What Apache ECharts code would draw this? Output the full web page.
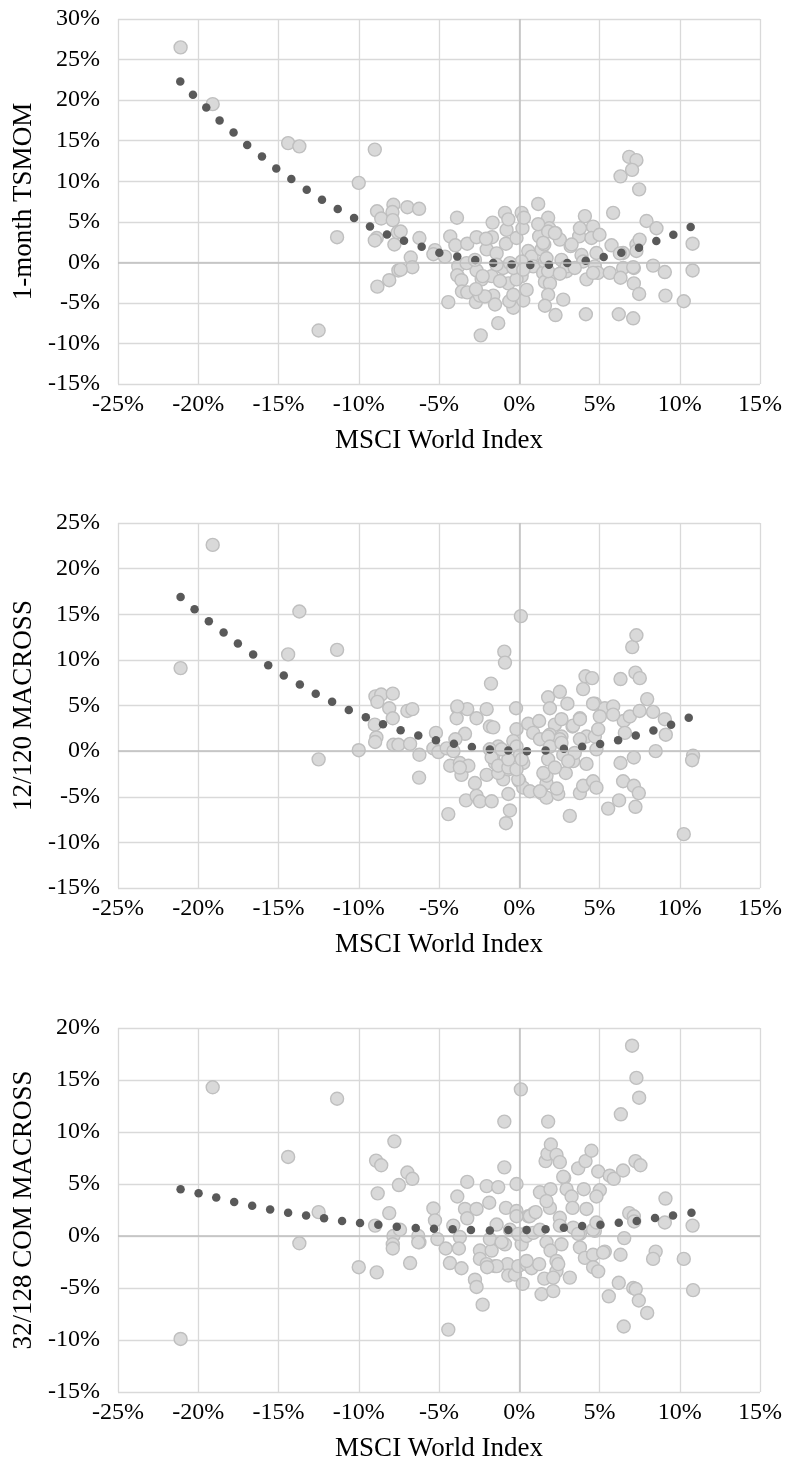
<!DOCTYPE html>
<html>
<head>
<meta charset="utf-8">
<script src="https://cdn.jsdelivr.net/npm/echarts@6/dist/echarts.min.js"></script>
<style>
  html, body { margin: 0; padding: 0; background: #fff; }
  #echarts { width: 785px; height: 1463px; }
</style>
</head>
<body>
<div id="echarts"></div>
<script>
// MSCI World Index return (x, %) vs strategy return (y, %)
var tsmomPts = [
    [-21.1,26.5],[-19.1,19.5],[-14.4,14.7],[-13.7,14.3],[-12.5,-8.4],[-11.35,3.1],[-10.0,9.8],[-9.0,13.9],
    [-8.86,6.3],[-8.6,5.4],[-8.88,3.0],[-9.0,2.7],[-7.84,7.1],[-7.9,6.2],[-7.88,5.2],[-7.78,2.2],[-7.57,3.7],[-7.53,-1.0],[-8.1,-2.2],[-8.84,-3.0],
    [-6.97,6.8],[-6.24,6.6],[-7.39,3.8],[-6.22,3.0],[-6.76,0.6],[-6.66,-0.6],[-7.39,-0.9],
    [-3.88,5.5],[-5.25,1.5],[-5.35,1.0],[-4.63,0.7],[-4.3,3.2],[-3.98,2.1],[-3.24,2.3],[-2.66,3.1],[-3.8,-0.5],[-3.86,-1.6],[-3.6,-2.2],
    [-3.57,-3.6],[-3.24,-3.7],[-4.42,-4.9],[-2.7,-4.9],[-2.45,-4.1],[-2.4,-9.0],[-2.66,-1.0],[-2.34,-2.1],[-2.03,1.6],[-1.66,4.9],[-1.7,3.1],
    [-1.72,-1.7],[-1.62,-4.1],[-1.51,-5.2],[-1.31,-7.5],[-1.41,1.1],
    [-0.89,6.1],[-0.79,4.0],[-0.68,5.3],[-0.83,2.3],[-1.0,-0.7],[-0.68,-2.6],[-0.37,-5.6],[-0.62,-4.8],[-0.17,3.0],[0.15,6.1],[0.2,4.2],
    [0.29,5.5],[0.25,-4.7],[0.15,-1.7],[-0.17,-2.1],[0.56,1.4],[0.77,0.7],[0.87,-0.5],
    [1.18,7.2],[1.24,3.2],[1.39,1.6],[1.56,2.2],[1.49,-1.3],[1.6,-2.4],[1.8,5.5],[1.87,4.2],[1.91,-2.6],[1.8,-4.0],[1.6,-5.35],[2.26,-6.5],
    [2.26,3.6],[2.53,2.8],[2.74,-4.6],[2.84,-0.7],[2.95,-1.1],[3.2,2.0],[3.73,3.2],[3.78,4.2],[4.09,5.7],[4.6,4.4],[4.5,3.0],[5.0,3.4],
    [3.88,0.9],[4.19,-2.1],[4.81,1.15],[4.71,-0.5],[4.9,-1.3],[4.15,-6.4],[5.64,-1.3],[5.85,6.1],[5.75,2.1],
    [6.31,10.6],[6.85,13.0],[7.3,12.6],[7.03,11.4],[7.47,9.0],[6.47,1.15],[6.47,-0.7],[6.31,-1.9],[6.2,-6.4],[7.1,-6.9],[7.14,-2.6],
    [7.14,-0.7],[7.3,2.2],[7.47,-3.9],[7.5,2.8],[7.93,5.1],[8.55,4.2],[8.34,-0.4],[9.07,-1.2],[9.11,-4.1],[10.25,-4.8],[10.8,2.3],[10.8,-1.0],
    [-3.28,-0.1],[-2.07,2.9],[-2.28,-1.7],[-2.14,-4.2],[-1.41,-0.3],[-1.2,-2.3],[0.15,0.1],[-0.58,-0.1],[-0.37,-0.7],[0.25,-0.9],
    [0.46,-3.4],[-0.37,-4.0],[1.18,4.7],[-2.76,0.3],[-2.7,-3.3],[1.6,0.1],[1.8,3.8],[2.22,3.6],[1.49,2.4],[1.7,0.5],[2.63,0.3],
    [2.95,-0.5],[1.8,-1.1],[3.26,2.2],[3.98,0.1],[3.46,-0.7],[4.6,-1.3],[6.27,1.1],[7.1,-0.6],[7.3,1.4],[2.53,-1.4]
];
var tsmomFit = [
    [-21.12,22.3],[-20.33,20.67],[-19.5,19.1],[-18.67,17.5],[-17.8,16.0],[-16.95,14.46],[-16.03,13.06],[-15.14,11.58],
    [-14.2,10.27],[-13.24,8.95],[-12.29,7.72],[-11.31,6.57],[-10.29,5.46],[-9.3,4.43],[-8.24,3.44],[-7.18,2.66],[-6.08,1.92],
    [-4.98,1.18],[-3.86,0.73],[-2.74,0.28],[-1.62,-0.09],[-0.47,-0.26],[0.69,-0.33],[1.85,-0.3],[2.99,-0.09],[4.14,0.2],
    [5.26,0.65],[6.36,1.18],[7.46,1.8],[8.54,2.62],[9.6,3.4],[10.68,4.35]
];

var macrossPts = [
    [-21.1,9.1],[-19.1,22.6],[-13.7,15.3],[-14.4,10.6],[-11.35,11.1],[-12.5,-0.9],[-10.0,0.1],
    [-8.96,6.0],[-8.6,6.2],[-8.84,5.4],[-7.88,6.3],[-8.1,4.7],[-7.88,3.6],[-9.0,2.9],[-8.9,1.5],[-8.98,1.0],[-7.84,0.7],[-7.53,0.7],
    [-6.97,4.4],[-6.66,4.6],[-6.8,0.8],[-6.22,-0.4],[-6.24,-2.9],[-5.19,2.0],[-5.35,0.3],[-5.04,-0.1],[-4.42,-6.9],[-3.84,4.7],
    [-3.9,3.6],[-3.24,4.6],[-2.66,3.6],[-3.38,1.9],[-3.98,1.3],[-4.52,0.3],[-4.1,0.0],[-4.3,-1.6],[-3.7,-1.3],[-3.6,-2.6],[-3.17,-1.6],
    [-2.76,-3.5],[-3.32,-5.4],[-2.66,-4.9],[-2.45,-5.5],[-1.72,-5.5],[-2.03,-2.6],[-1.76,7.4],[-2.03,4.6],[-1.83,2.7],[-1.62,2.6],
    [-1.31,0.5],[-1.62,-0.5],[-1.51,-1.3],[-1.2,-2.2],[-1.0,-3.1],[-0.68,-2.0],[-0.68,-4.7],[-0.58,-6.5],[-0.83,-7.9],[-0.93,10.9],
    [-0.89,9.7],[0.1,14.8],[-0.2,4.7],[-0.17,2.4],[-0.37,1.1],[-0.17,0.5],[0.04,-0.5],[0.25,-1.3],[0,-3.3],[0.25,-4.0],[0.66,-4.4],
    [0.56,3.0],[0.87,2.0],[1.24,3.3],[1.8,5.9],[1.91,4.7],[2.53,6.5],[3.0,5.2],[2.22,2.9],[1.91,1.8],[1.29,1.3],[2.63,1.6],
    [2.74,-0.4],[1.8,-0.9],[1.6,-2.6],[1.7,-3.5],[1.39,-4.6],[1.7,-5.1],[2.43,-4.7],[2.34,-4.1],[2.9,-2.4],[3.15,-7.1],[3.32,2.7],
    [3.78,3.6],[4.13,8.2],[4.54,8.0],[3.98,6.8],[4.71,5.2],[5.33,4.7],[5.85,4.9],[5.02,3.8],[4.19,1.6],[4.81,0.2],[4.19,-1.4],
    [3.78,-4.6],[3.98,-3.8],[4.6,-3.3],[4.81,-4.0],[5.54,-6.3],[6.22,-5.4],[6.31,7.9],[6.51,3.3],[6.58,2.0],[6.31,-1.3],[7.14,-0.7],
    [6.47,-3.3],[7.14,-3.8],[7.45,-4.6],[7.24,-6.1],[7.24,8.6],[7.51,8.0],[7.04,11.4],[7.3,12.7],[6.89,3.8],[7.5,4.4],[7.97,5.7],
    [8.34,4.3],[9.07,3.5],[9.13,1.8],[8.5,0.0],[10.83,-0.5],[10.77,-1.0],[10.25,-9.1],
    [3.36,2.8],[4.6,5.2],[5.85,4.0],[3.36,-1.1],[1.7,-2.7],[1.29,-4.4],[2.63,3.5],[3.78,3.5],[4.71,1.6],[4.92,2.4],[3.78,1.3],
    [2.53,1.3],[1.8,1.6],[1.91,0.5],[2.63,0.9],[3.46,-0.2],[3.05,-1.1],[1.5,-2.4],[2.22,-1.8],[-3.86,4.9],[-3.7,-1.8],[-1.31,-2.4],
    [-0.06,-3.1],[-1.83,0.2],[-1.72,-0.7],[-1.31,-1.6],[-0.68,-1.8],[-0.17,-2.0],[-0.68,-0.9],[-1.1,0.2],[0.15,-0.9]
];
var macrossFit = [
    [-21.1,16.9],[-20.23,15.55],[-19.34,14.23],[-18.42,13.0],[-17.53,11.8],[-16.58,10.6],[-15.64,9.4],[-14.67,8.3],
    [-13.67,7.3],[-12.68,6.3],[-11.66,5.4],[-10.62,4.5],[-9.56,3.7],[-8.49,2.95],[-7.39,2.3],[-6.29,1.7],[-5.19,1.2],
    [-4.07,0.8],[-2.95,0.44],[-1.83,0.18],[-0.68,0.07],[0.48,0.0],[1.64,0.07],[2.78,0.26],[3.92,0.47],[5.04,0.77],
    [6.16,1.2],[7.26,1.7],[8.36,2.26],[9.46,2.9],[10.56,3.65]
];

var comPts = [
    [-21.1,-9.9],[-19.1,14.3],[-11.35,13.2],[-14.4,7.6],[-12.5,2.3],[-13.7,-0.7],[-10.0,-3.0],[-8.88,-3.5],[-8.82,4.1],[-8.92,7.25],
    [-8.6,6.8],[-7.78,9.1],[-7.5,4.9],[-8.1,2.2],[-8.98,1.0],[-7.84,0.0],[-7.88,-0.8],[-7.88,-1.2],
    [-6.97,6.1],[-6.66,5.5],[-7.43,0.6],[-6.8,-2.6],[-6.29,0.0],[-6.22,-0.6],[-5.35,2.65],[-5.25,1.5],[-5.1,-0.3],[-4.58,-1.2],
    [-4.32,-2.6],[-3.6,-3.1],[-4.42,-9.0],[-4.11,1.0],[-3.86,3.8],[-3.7,-0.1],[-3.76,-1.2],[-3.38,2.6],[-3.24,5.2],[-3.24,1.7],
    [-2.66,2.6],[-2.76,-4.2],[-2.66,-4.9],[-2.28,-6.6],[-2.45,-1.4],[-2.45,-2.2],[-2.03,-2.7],[-2.03,4.8],[-1.87,3.2],[-1.72,-1.4],
    [-1.51,-2.9],[-1.41,1.1],[-1.31,4.7],[-0.93,11.0],[-0.93,6.6],[-0.83,2.7],[-0.89,-0.8],[-0.73,-2.7],[-0.68,-3.8],[-0.27,-3.7],
    [-0.17,5.0],[-0.17,2.4],[0.1,14.1],[0.04,0.0],[0.15,-0.8],[-0.06,-2.9],[0.21,-4.6],[0.46,-2.7],[0.77,-3.1],[0.56,1.9],[0.91,2.2],
    [0.46,0.3],[1.24,-2.7],[1.29,4.2],[1.39,-5.6],[1.56,-4.1],[1.8,11.0],[1.64,7.2],[1.76,7.9],[1.97,8.8],[2.32,7.8],[2.53,7.1],
    [1.95,4.5],[1.91,2.7],[1.7,-0.6],[1.95,-1.4],[2.12,-5.3],[2.32,-2.4],[2.32,-3.4],[2.63,-0.8],[2.8,5.6],[2.95,4.5],[3.26,3.8],
    [3.15,-4.0],[3.32,2.7],[3.67,6.5],[4.02,4.5],[4.13,7.2],[4.5,8.2],[4.19,2.6],[3.78,0.2],[3.78,-1.1],[4.09,-2.1],[4.6,-1.8],
    [4.6,-3.0],[4.92,-3.4],[4.71,0.5],[4.92,6.2],[5.02,4.4],[4.81,3.8],[5.33,-1.5],[5.58,-5.8],[5.64,5.8],[5.89,5.5],[6.33,11.7],
    [6.47,6.3],[6.54,-0.2],[6.31,-1.8],[6.2,-4.5],[6.51,-8.7],[7.03,18.3],[7.3,15.2],[7.47,13.3],[7.24,7.2],[7.55,6.8],[6.85,2.2],
    [7.14,1.9],[7.1,-5.0],[7.26,-5.1],[7.45,-6.2],[7.97,-7.4],[8.5,-1.5],[8.34,-2.2],[9.11,3.6],[9.07,1.3],[10.25,-2.2],[10.8,1.0],
    [10.83,-5.2],
    [-6.29,-0.6],[-1.83,-0.3],[-1.1,-0.6],[-0.58,0.6],[-0.06,0.2],[0.46,0.0],[0.87,0.3],[-0.17,1.9],[0.66,1.9],[1.02,2.3],[2.74,5.7],
    [1.7,3.35],[2.53,1.75],[7.16,1.4],[5.23,-1.6],[2.43,-2.7],[2.12,-4.0],[1.29,0.6],[2.53,1.0],[3.36,0.8],[4.6,0.6],[3.67,0.2],
    [4.81,1.3],[0.46,-2.4],[-1.4,-2.9],[-2.0,-3.0]
];
var comFit = [
    [-21.1,4.5],[-19.98,4.1],[-18.88,3.7],[-17.76,3.26],[-16.64,2.9],[-15.52,2.55],[-14.4,2.24],[-13.28,1.98],[-12.16,1.7],
    [-11.04,1.44],[-9.92,1.25],[-8.78,1.09],[-7.63,0.9],[-6.45,0.77],[-5.31,0.7],[-4.15,0.64],[-3.01,0.58],[-1.83,0.54],
    [-0.68,0.58],[0.46,0.58],[1.64,0.64],[2.78,0.8],[3.92,0.96],[5.06,1.09],[6.2,1.28],[7.32,1.44],[8.46,1.73],[9.58,1.98],[10.73,2.24]
];

var yNames = ['1-month TSMOM', '12/120 MACROSS', '32/128 COM MACROSS'];
var yMax = [30, 25, 20];
var ptsList = [tsmomPts, macrossPts, comPts];
var fitList = [tsmomFit, macrossFit, comFit];

var font = '"Times New Roman", "Liberation Serif", serif';
var gridTops = [19, 523, 1028];

var myChart = echarts.init(document.getElementById('echarts'));
var grids = [], xAxes = [], yAxes = [], series = [];
for (var i = 0; i < 3; i++) {
    grids.push({ left: 118, width: 642, top: gridTops[i], height: 365 });
    xAxes.push({
        gridIndex: i, type: 'value', min: -25, max: 15, interval: 5,
        axisLine: { show: false }, axisTick: { show: false },
        axisLabel: { formatter: '{value}%', fontFamily: font, fontSize: 24, color: '#000', margin: 9 },
        splitLine: { lineStyle: { color: '#d9d9d9', width: 1.3 } },
        name: 'MSCI World Index', nameLocation: 'middle', nameGap: 43,
        nameTextStyle: { fontFamily: font, fontSize: 27, color: '#000' }
    });
    yAxes.push({
        gridIndex: i, type: 'value', min: -15, max: yMax[i], interval: 5,
        axisLine: { show: false }, axisTick: { show: false },
        axisLabel: { formatter: '{value}%', fontFamily: font, fontSize: 24, color: '#000', margin: 18 },
        splitLine: { lineStyle: { color: '#d9d9d9', width: 1.3 } },
        name: yNames[i], nameLocation: 'middle', nameRotate: 90, nameGap: 80,
        nameTextStyle: { fontFamily: font, fontSize: 27, color: '#000' }
    });
    // zero lines (darker than the grid)
    series.push({
        type: 'scatter', xAxisIndex: i, yAxisIndex: i, data: [], z: 1,
        markLine: {
            silent: true, symbol: ['none', 'none'], label: { show: false },
            lineStyle: { color: '#bfbfbf', width: 1.5, type: 'solid' },
            data: [{ xAxis: 0 }, { yAxis: 0 }]
        }
    });
    series.push({
        type: 'scatter', xAxisIndex: i, yAxisIndex: i, data: ptsList[i], z: 2,
        symbolSize: 13,
        itemStyle: { color: '#d9d9d9', borderColor: '#bfbfbf', borderWidth: 1.4, opacity: 1 }
    });
    series.push({
        type: 'scatter', xAxisIndex: i, yAxisIndex: i, data: fitList[i], z: 3,
        symbolSize: 8.5,
        itemStyle: { color: '#595959', opacity: 1 }
    });
}

option = {
    animation: false,
    backgroundColor: '#fff',
    grid: grids,
    xAxis: xAxes,
    yAxis: yAxes,
    series: series
};
myChart.setOption(option);
</script>
</body>
</html>
